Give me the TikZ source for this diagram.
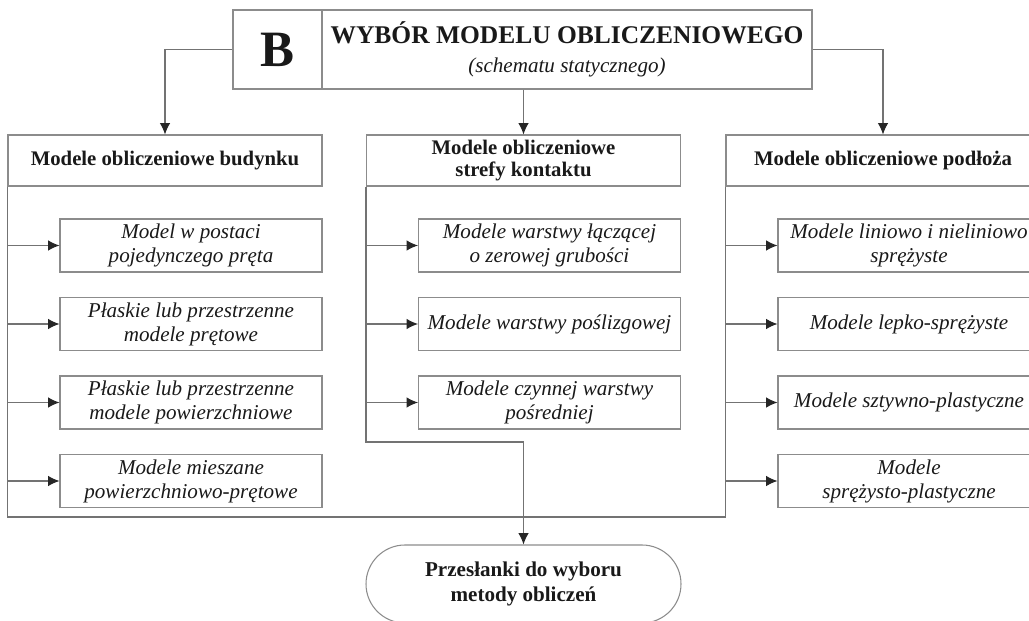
\documentclass[tikz,border=0pt]{standalone}
\usepackage{fontspec}
\setmainfont{Liberation Serif}
\usetikzlibrary{shapes,arrows.meta,calc}
\tikzstyle{line} = [draw=black!55, line width=0.6pt, -{Latex[length=6.5pt,width=6pt,color=black!85]}]
\tikzstyle{trunk} = [draw=black!55, line width=0.6pt]
\tikzstyle{block} = [draw=black!45, line width=0.6pt, rectangle, align=center, text=black!90, inner sep=0pt, minimum width=5.24cm, minimum height=1.06cm, font=\itshape\fontsize{12}{13.7}\selectfont]
\tikzstyle{header} = [draw=black!45, line width=0.6pt, rectangle, align=center, text=black!90, inner sep=0pt, minimum width=6.28cm, minimum height=1.02cm, font=\bfseries\fontsize{11.8}{12.8}\selectfont]
\tikzstyle{letter} = [draw=black!45, line width=0.6pt, rectangle, text=black!90, inner sep=0pt, minimum width=1.78cm, minimum height=1.58cm, font=\bfseries\fontsize{29}{30}\selectfont]
\tikzstyle{titlebox} = [draw=black!45, line width=0.6pt, rectangle, align=center, text=black!90, inner sep=0pt, minimum width=9.8cm, minimum height=1.58cm, font=\bfseries\fontsize{14.5}{15.6}\selectfont]
\tikzstyle{terminal} = [draw=black!45, line width=0.6pt, rectangle, rounded corners=0.78cm, align=center, text=black!90, inner sep=0pt, minimum width=6.3cm, minimum height=1.56cm, font=\bfseries\fontsize{12}{14}\selectfont]

\begin{document}
\begin{tikzpicture}[node distance=1.57cm, auto]
        \useasboundingbox (0,0) rectangle (20.58,-12.42);
        \clip (0,0) rectangle (20.58,-12.42);
        \node[letter] (b) at (5.55,-0.99) {B};
        \node[titlebox, right of=b, node distance=5.79cm] (title) {WYBÓR MODELU OBLICZENIOWEGO\\[1pt]{\mdseries\itshape\fontsize{12}{14}\selectfont (schematu statycznego)}};
        \node[header] (hdrL) at (3.3,-3.21) {Modele obliczeniowe budynku};
        \node[header, right of=hdrL, node distance=7.17cm] (hdrM) {Modele obliczeniowe\\strefy kontaktu};
        \node[header, right of=hdrM, node distance=7.19cm] (hdrR) {Modele obliczeniowe podłoża};
        \node[block, below of=hdrL, node distance=1.7cm, xshift=0.52cm] (l1) {Model w postaci\\pojedynczego pręta};
        \node[block, below of=l1] (l2) {Płaskie lub przestrzenne\\modele prętowe};
        \node[block, below of=l2] (l3) {Płaskie lub przestrzenne\\modele powierzchniowe};
        \node[block, below of=l3] (l4) {Modele mieszane\\powierzchniowo-prętowe};
        \node[block, below of=hdrM, node distance=1.7cm, xshift=0.52cm] (m1) {Modele warstwy łączącej\\o zerowej grubości};
        \node[block, below of=m1] (m2) {Modele warstwy poślizgowej};
        \node[block, below of=m2] (m3) {Modele czynnej warstwy\\pośredniej};
        \node[block, below of=hdrR, node distance=1.7cm, xshift=0.52cm] (r1) {Modele liniowo i nieliniowo\\sprężyste};
        \node[block, below of=r1] (r2) {Modele lepko-sprężyste};
        \node[block, below of=r2] (r3) {Modele sztywno-plastyczne};
        \node[block, below of=r3] (r4) {Modele\\sprężysto-plastyczne};
        \node[terminal, below of=hdrM, node distance=8.47cm] (premise) {Przesłanki do wyboru\\metody obliczeń};
        \coordinate (bend) at (0,-8.84);
        \coordinate (base) at (0,-10.34);
        \path[line] (b.west) -| (hdrL.north);
        \path[line] (title.south -| hdrM.north) -- (hdrM.north);
        \path[line] (title.east) -| (hdrR.north);
        \path[trunk] (hdrL.south west) -- (hdrL.south west |- base) -| (hdrR.south west);
        \path[line] (hdrM.south west) -- (hdrM.south west |- bend) -| (premise.north);
        \path[line] (hdrL.south west |- l1.west) -- (l1.west);
        \path[line] (hdrL.south west |- l2.west) -- (l2.west);
        \path[line] (hdrL.south west |- l3.west) -- (l3.west);
        \path[line] (hdrL.south west |- l4.west) -- (l4.west);
        \path[line] (hdrM.south west |- m1.west) -- (m1.west);
        \path[line] (hdrM.south west |- m2.west) -- (m2.west);
        \path[line] (hdrM.south west |- m3.west) -- (m3.west);
        \path[line] (hdrR.south west |- r1.west) -- (r1.west);
        \path[line] (hdrR.south west |- r2.west) -- (r2.west);
        \path[line] (hdrR.south west |- r3.west) -- (r3.west);
        \path[line] (hdrR.south west |- r4.west) -- (r4.west);
    \end{tikzpicture}
\end{document}
